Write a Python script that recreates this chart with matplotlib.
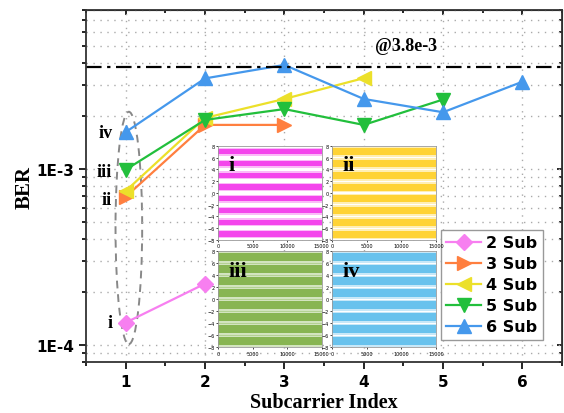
import numpy as np
import matplotlib
matplotlib.use('Agg')
import matplotlib.pyplot as plt
from matplotlib.patches import Ellipse

# BER vs subcarrier index
sub2 = [1.34e-4, 2.23e-4]
sub3 = [6.95e-4, 1.78e-3, 1.78e-3]
sub4 = [7.5e-4, 1.95e-3, 2.5e-3, 3.28e-3]
sub5 = [9.9e-4, 1.9e-3, 2.19e-3, 1.78e-3, 2.48e-3]
sub6 = [1.62e-3, 3.27e-3, 3.9e-3, 2.5e-3, 2.1e-3, 3.13e-3]
series = [sub2, sub3, sub4, sub5, sub6]
names = ['2 Sub', '3 Sub', '4 Sub', '5 Sub', '6 Sub']
colors = ['#f77ff0', '#ff7f3f', '#ece02a', '#22bf3c', '#4598ec']
markers = ['D', '>', '<', 'v', '^']
msizes = [8, 9.5, 9.5, 9.5, 9.5]
threshold = 3.8e-3

# PAM8 levels for the received-signal insets
levels = [-7, -5, -3, -1, 1, 3, 5, 7]
inset_names = ['i', 'ii', 'iii', 'iv']
inset_colors = ['#f21ee8', '#ffca0a', '#6fa62e', '#48b6ea']
band_half = [0.45, 0.6, 0.72, 0.62]

fig = plt.figure(figsize=(5.64, 4.14), dpi=100)
ax = fig.add_axes([0.1525, 0.123, 0.844, 0.8504])

for y, n, c, m, s in zip(series, names, colors, markers, msizes):
    x = np.arange(1, len(y) + 1)
    ax.plot(x, y, color=c, marker=m, ms=s, lw=1.6, label=n)

ax.axhline(threshold, color='k', lw=1.6, ls=(0, (7, 2.5, 1.5, 2.5)))
ax.text(4.53, 5.0e-3, '@3.8e-3', family='Liberation Serif', fontweight='bold',
        fontsize=13, ha='center', va='center')

ax.set_yscale('log')
ax.set_xlim(0.5, 6.5)
ax.set_ylim(8e-5, 8e-3)
ax.set_xticks(range(1, 7))
ax.set_xticks(np.arange(0.5, 6.6, 0.5), minor=True)
ax.set_yticks([1e-4, 1e-3])
ax.set_yticklabels(['1E-4', '1E-3'])
ax.yaxis.set_minor_formatter(matplotlib.ticker.NullFormatter())
for lab in ax.get_xticklabels() + ax.get_yticklabels():
    lab.set_fontweight('bold')
    lab.set_fontsize(11)
ax.tick_params(which='both', direction='out', top=False, right=False, width=1.2)
ax.tick_params(which='major', length=5)
ax.tick_params(which='minor', length=3)
ax.grid(True, which='major', axis='x', ls=(0, (1, 4)), color='#aaaaaa', lw=1)
ax.grid(True, which='both', axis='y', ls=(0, (1, 4)), color='#aaaaaa', lw=1)
for sp in ax.spines.values():
    sp.set_linewidth(1.3)
    sp.set_color('#333333')

# mirrored ticks pointing inward on top/right
sec_x = ax.secondary_xaxis('top')
sec_x.set_xticks(range(1, 7))
sec_x.set_xticks(np.arange(0.5, 6.6, 0.5), minor=True)
sec_x.tick_params(which='both', direction='in', labeltop=False, width=1.2)
sec_y = ax.secondary_yaxis('right')
sec_y.tick_params(which='both', direction='in', labelright=False, width=1.2)

ax.set_xlabel('Subcarrier Index', family='Liberation Serif', fontweight='bold',
              fontsize=14.5, labelpad=2)
ax.set_ylabel('BER', family='Liberation Serif', fontweight='bold', fontsize=15,
              labelpad=1)

# roman markers beside the first-subcarrier points
for txt, yy in zip(['i', 'ii', 'iii', 'iv'], [1.34e-4, 6.7e-4, 9.7e-4, 1.62e-3]):
    ax.text(0.83, yy, txt, family='Liberation Serif', fontweight='bold',
            fontsize=13, ha='right', va='center')

ax.add_patch(Ellipse((0.090, 0.381), 0.056, 0.66, transform=ax.transAxes,
                     fill=False, ec='#888888', lw=1.4, ls=(0, (4, 3))))

leg = ax.legend(loc='lower right', bbox_to_anchor=(0.96, 0.0625),
                borderaxespad=0,
                prop={'weight': 'bold', 'size': 11.5}, handlelength=2.2,
                borderpad=0.35, labelspacing=0.38, handletextpad=0.3,
                fancybox=False, edgecolor='#999999', framealpha=1)

# received signal insets
boxes = [[0.3865, 0.418, 0.184, 0.227], [0.5887, 0.418, 0.184, 0.227],
         [0.3865, 0.159, 0.184, 0.232], [0.5887, 0.159, 0.184, 0.232]]
for box, nm, c, w in zip(boxes, inset_names, inset_colors, band_half):
    ia = fig.add_axes(box)
    for lv in levels:
        ia.axhspan(lv - w * 1.5, lv + w * 1.5, color=c, alpha=0.3, lw=0)
        ia.axhspan(lv - w, lv + w, color=c, alpha=0.75, lw=0)
    ia.set_xlim(0, 15000)
    ia.set_ylim(-8, 8)
    ia.set_xticks([0, 5000, 10000, 15000])
    ia.set_yticks(range(-8, 9, 2))
    ia.tick_params(labelsize=3.5, length=1.5, width=0.5, pad=1)
    for sp in ia.spines.values():
        sp.set_linewidth(0.6)
        sp.set_color('#999999')
    ia.text(0.1, 0.9, nm, transform=ia.transAxes, family='Liberation Serif',
            fontweight='bold', fontsize=16, va='top', ha='left')

fig.savefig('out.png', dpi=100)
